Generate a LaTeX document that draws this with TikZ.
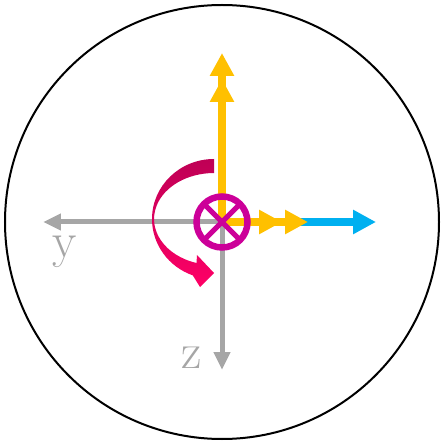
\documentclass[tikz,border=0pt]{standalone}
\usetikzlibrary{arrows.meta}
\definecolor{axisgray}{HTML}{A6A6A6}
\definecolor{rotyellow}{HTML}{FFC000}
\definecolor{rotblue}{HTML}{00B0F0}
\definecolor{ringmagenta}{HTML}{CC0099}
\definecolor{twistdark}{RGB}{190,0,85}
\definecolor{twistmid}{RGB}{240,0,95}
\definecolor{twistpink}{RGB}{255,0,102}
\tikzset{
  grayaxis/.style={draw=axisgray, line width=5pt, -{Triangle[length=18pt,width=16pt]}},
  fatarrow/.style={line width=7.5pt, -{Triangle[length=23pt,width=23pt]}},
  dblarrow/.style={line width=7.5pt, -{Triangle[length=23pt,width=23pt,sep=3pt]Triangle[length=23pt,width=23pt]}},
  axislabel/.style={text=axisgray, font=\fontsize{50}{60}\selectfont, inner sep=0pt, anchor=base}
}
\begin{document}
\begin{tikzpicture}[x=1pt,y=1pt]
\useasboundingbox (-222,-219) rectangle (222,222);
\draw[line width=2pt] (0,0) circle[radius=217];
\coordinate (o) at (0,0);
\coordinate (ytip) at (-179,0);
\coordinate (ztip) at (0,-148);
\coordinate (xblue) at (154,0);
\coordinate (xyel) at (86,0);
\coordinate (up) at (0,169);
\draw[grayaxis] (o) -- (ytip);
\draw[grayaxis] (o) -- (ztip);
\node[axislabel] (ylab) at (-157,-36) {y};
\node[axislabel] (zlab) at (-30,-146) {z};
\draw[fatarrow, rotblue] (o) -- (xblue);
\draw[dblarrow, rotyellow] (o) -- (xyel);
\draw[dblarrow, rotyellow] (o) -- (up);
% ring with cross
\draw[ringmagenta, line width=6.5pt] (o) circle[radius=25.5];
\draw[ringmagenta, line width=5pt] (o) ++(45:25) -- ++(225:50) (o) ++(135:25) -- ++(315:50);
% twist arrow
\shade[top color=twistdark, middle color=twistmid, bottom color=twistpink]
  (-8,63) arc[start angle=90, end angle=250, x radius=62, y radius=60]
  -- (-22,-65) -- (-8,-51) -- (-25,-33) -- (-25.5,-41)
  arc[start angle=253, end angle=90, x radius=60, y radius=46] -- cycle;
\end{tikzpicture}
\end{document}
